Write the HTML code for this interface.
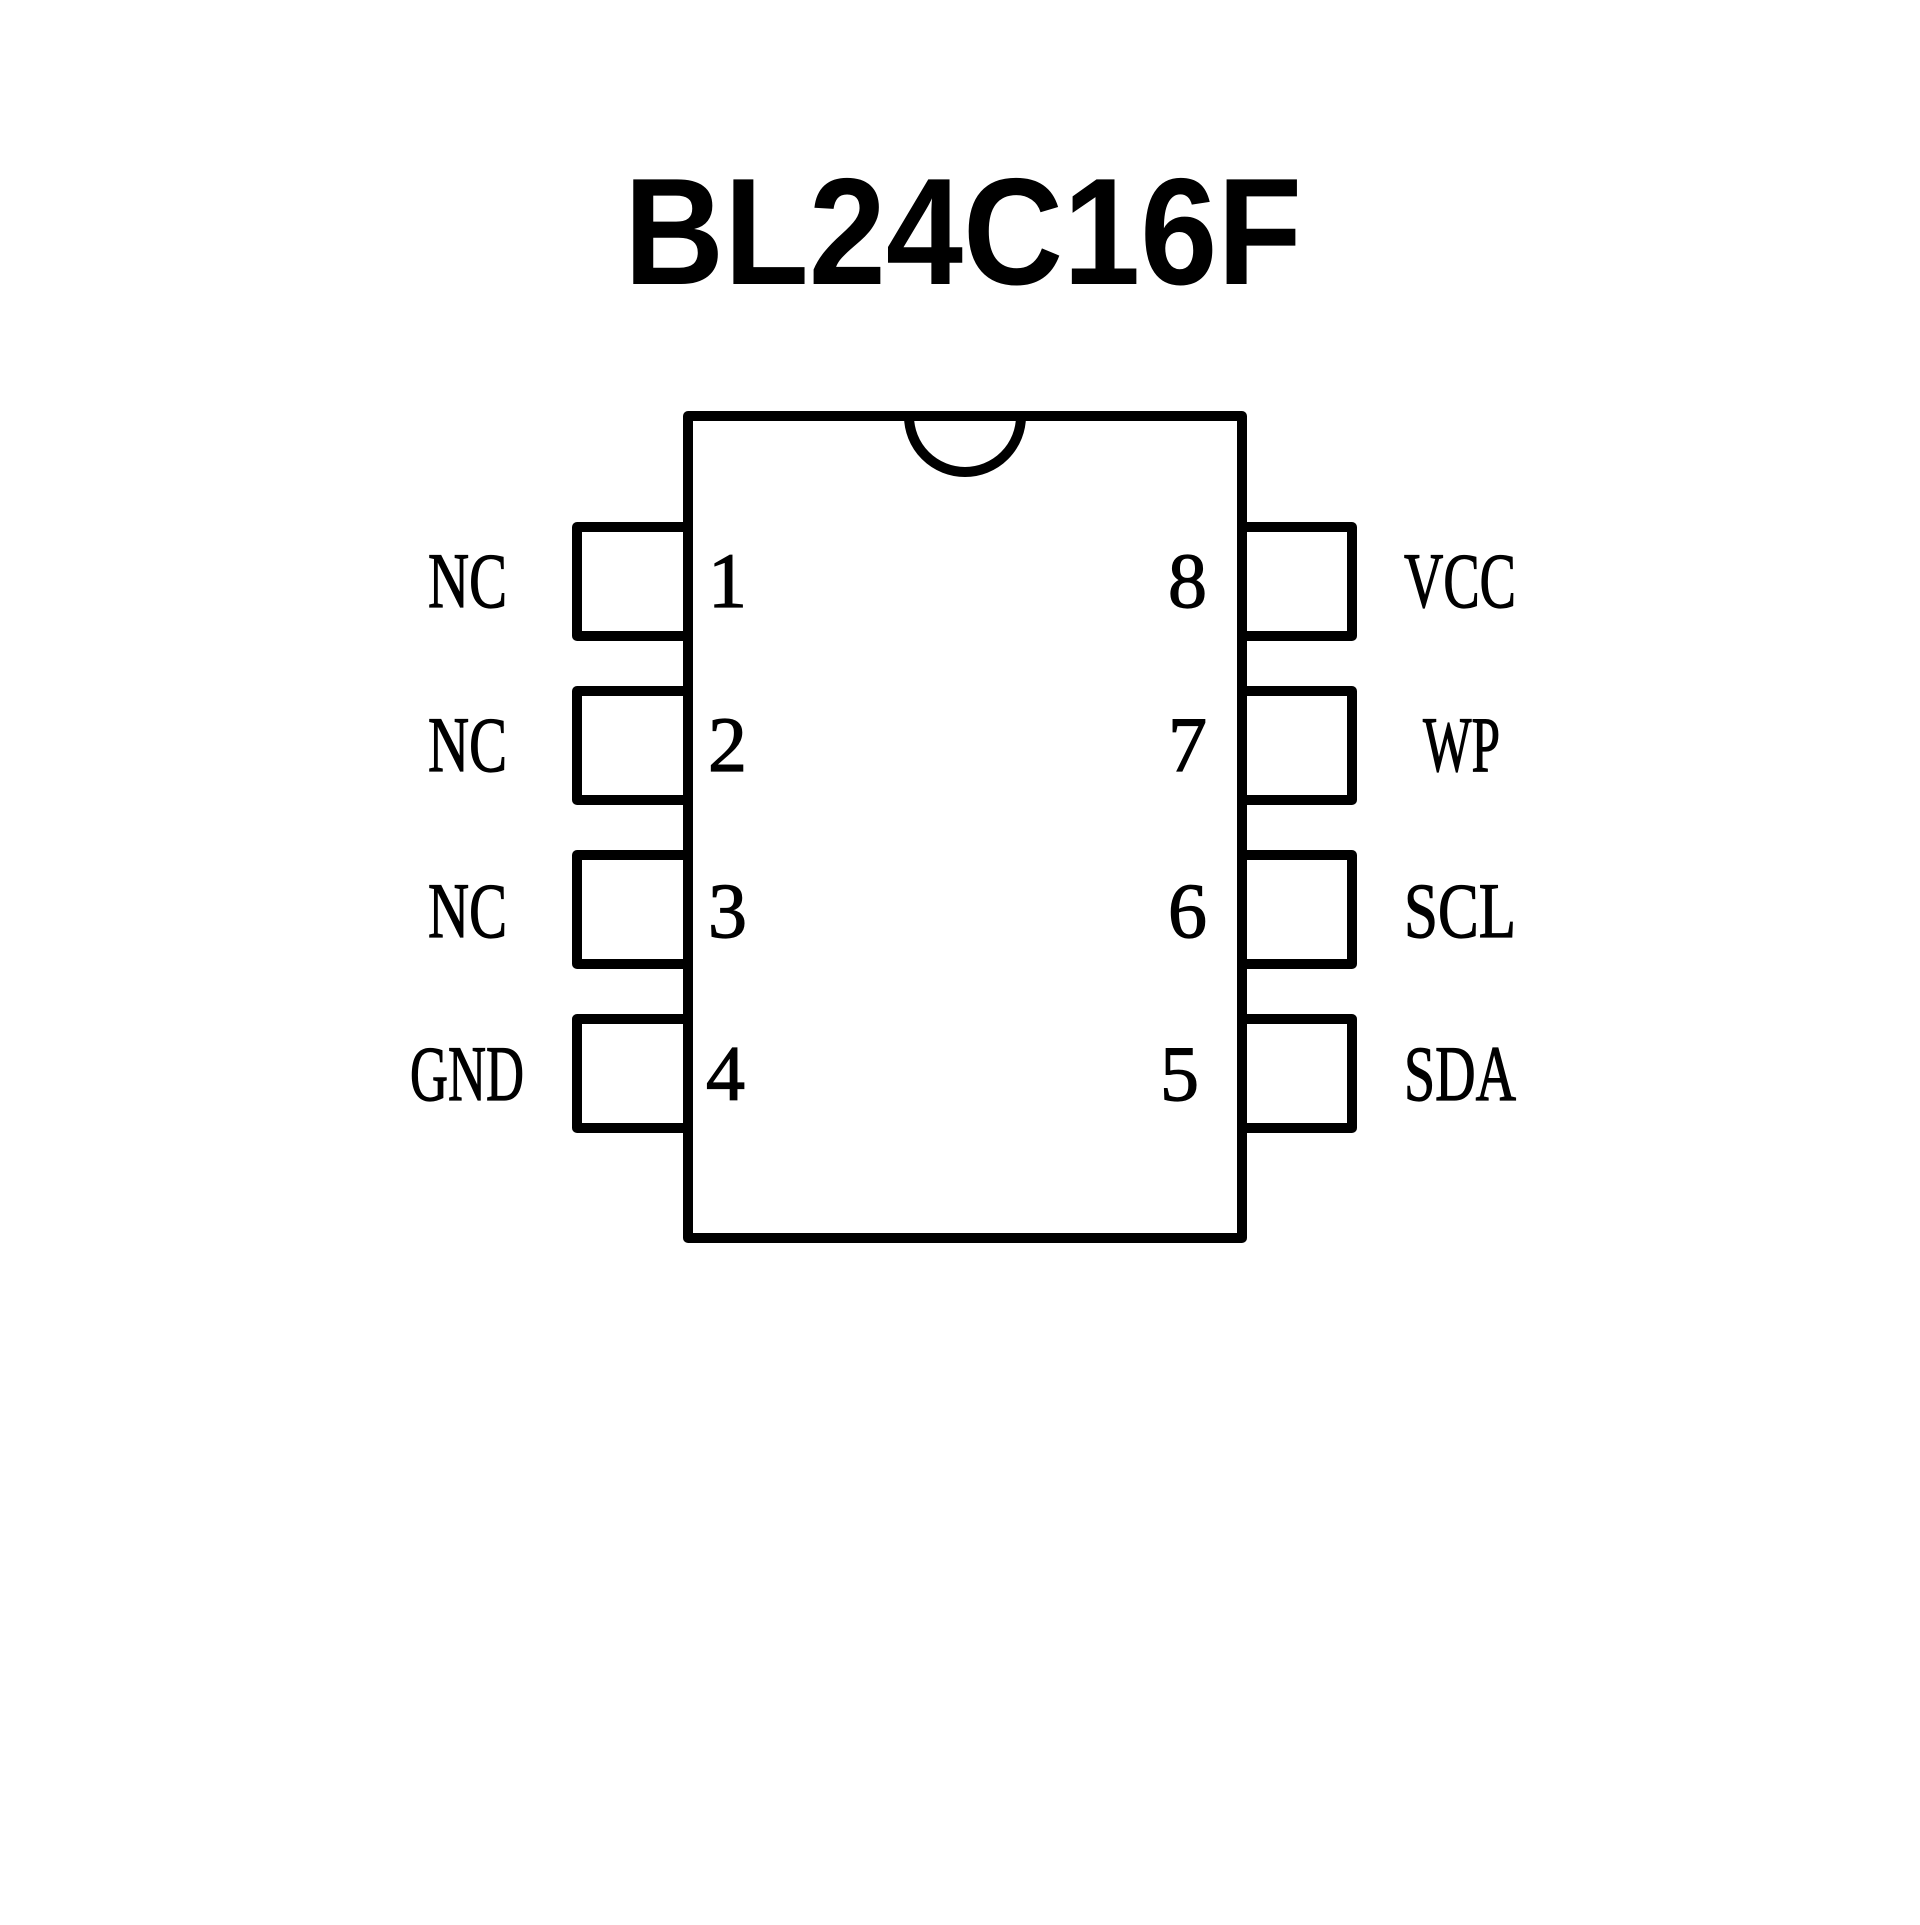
<!DOCTYPE html>
<html><head><meta charset="utf-8"><style>html,body{margin:0;padding:0;background:#fff}</style></head>
<body>
<svg width="1920" height="1920" viewBox="0 0 1920 1920" xmlns="http://www.w3.org/2000/svg">
<rect width="1920" height="1920" fill="#fff"/>
<text x="624" y="284" font-family="Liberation Sans, sans-serif" font-weight="bold" font-size="152" textLength="678" lengthAdjust="spacingAndGlyphs">BL24C16F</text>
<g fill="none" stroke="#000" stroke-width="10" stroke-linejoin="round">
<path d="M688 416 H1242 V1238 H688 Z"/>
<path d="M909 416 A56 56 0 0 0 1021 416"/>
<path d="M688 527 H577 V636 H688"/>
<path d="M688 691 H577 V800 H688"/>
<path d="M688 855 H577 V964 H688"/>
<path d="M688 1019 H577 V1128 H688"/>
<path d="M1242 527 H1352 V636 H1242"/>
<path d="M1242 691 H1352 V800 H1242"/>
<path d="M1242 855 H1352 V964 H1242"/>
<path d="M1242 1019 H1352 V1128 H1242"/>
</g>
<g font-family="Liberation Serif, serif" font-size="78" fill="#000" stroke="#000" stroke-width="1.2">
<text x="428" y="607" textLength="79" lengthAdjust="spacingAndGlyphs">NC</text>
<text x="428" y="771" textLength="79" lengthAdjust="spacingAndGlyphs">NC</text>
<text x="428" y="937" textLength="79" lengthAdjust="spacingAndGlyphs">NC</text>
<text x="410" y="1100" textLength="114" lengthAdjust="spacingAndGlyphs">GND</text>
<text x="1404" y="607" textLength="112" lengthAdjust="spacingAndGlyphs">VCC</text>
<text x="1423" y="771" textLength="77" lengthAdjust="spacingAndGlyphs">WP</text>
<text x="1404" y="937" textLength="112" lengthAdjust="spacingAndGlyphs">SCL</text>
<text x="1404" y="1100" textLength="112" lengthAdjust="spacingAndGlyphs">SDA</text>
<text x="708" y="607">1</text>
<text x="708" y="771">2</text>
<text x="708" y="937">3</text>
<text x="706" y="1100">4</text>
<text x="1168" y="607">8</text>
<text x="1168" y="771">7</text>
<text x="1168" y="937">6</text>
<text x="1160" y="1100">5</text>
</g>
</svg>
</body></html>
